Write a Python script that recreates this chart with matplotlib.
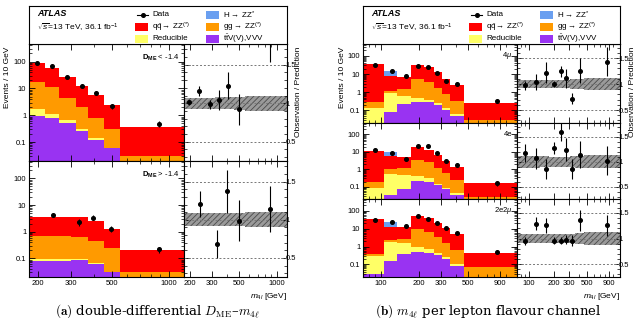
import numpy as np
import matplotlib
matplotlib.use("Agg")
import matplotlib.pyplot as plt
from matplotlib.patches import Rectangle
from matplotlib.ticker import FixedLocator, FixedFormatter, LogLocator, NullFormatter, MultipleLocator

plt.rcParams['font.family'] = ['Liberation Sans', 'DejaVu Sans']
plt.rcParams['mathtext.fontset'] = 'custom'
plt.rcParams['mathtext.rm'] = 'Liberation Sans'
plt.rcParams['mathtext.it'] = 'Liberation Sans:italic'
plt.rcParams['mathtext.bf'] = 'Liberation Sans:bold'
plt.rcParams['hatch.linewidth'] = 0.6

# ---- (a) double differential D_ME - m4l ----
edges_lo = [180, 220, 260, 320, 370, 450, 550, 1200]     # D_ME < -1.4
x_lo = [199, 239, 288, 344, 408, 497, 880]
ttv_lo = [0.92, 0.82, 0.52, 0.26, 0.12, 0.059, 0.004]
red_lo = [0.81, 0.34, 0.13, 0.04, 0.02, 0.004, 0.001]
gg_lo = [15.6, 9.7, 3.75, 1.68, 0.63, 0.25, 0.025]
qq_lo = [74.7, 49.1, 23.4, 10.6, 5.0, 2.04, 0.34]
h_lo = [0, 0, 0, 0, 0, 0, 0]
data_lo = [87, 69, 26.3, 12.6, 6.8, 2.15, 0.49]
ratio_lo = [1.013, 1.164, 0.987, 1.043, 1.23, 0.922, 2.1]
rerr_lo = [0.035, 0.065, 0.055, 0.125, 0.18, 0.2, 0.56]
band_lo = [0.07, 0.07, 0.07, 0.075, 0.08, 0.085, 0.1]

edges_hi = [180, 300, 370, 450, 550, 1200]               # D_ME > -1.4
x_hi = [240, 331, 396, 493, 880]
ttv_hi = [0.082, 0.087, 0.062, 0.03, 0.008]
red_hi = [0.01, 0.005, 0.004, 0.002, 0.001]
gg_hi = [0.588, 0.568, 0.394, 0.205, 0.021]
qq_hi = [2.87, 2.84, 2.04, 1.073, 0.175]
h_hi = [0, 0, 0, 0, 0]
data_hi = [4.1, 2.31, 3.37, 1.31, 0.218]
ratio_hi = [1.209, 0.678, 1.373, 0.99, 1.143]
rerr_hi = [0.17, 0.185, 0.285, 0.265, 0.3]
band_hi = [0.085, 0.085, 0.085, 0.085, 0.1]

# ---- (b) m4l per lepton flavour channel ----
edges_b = [72, 105, 135, 175, 220, 265, 310, 360, 460, 1225]
x_b = [89, 122, 158, 199, 240, 281, 330, 408, 850]

ttv_4mu = [0.004, 0.081, 0.21, 0.285, 0.30, 0.19, 0.10, 0.047, 0.003]
red_4mu = [0.132, 0.79, 0.44, 0.175, 0.07, 0.05, 0.026, 0.013, 0.002]
gg_4mu = [0.164, 0.36, 0.82, 4.94, 3.23, 1.44, 0.674, 0.28, 0.025]
qq_4mu = [33.7, 6.27, 5.43, 24.6, 21.4, 10.9, 4.6, 2.01, 0.23]
h_4mu = [0, 6.9, 0, 0, 0, 0, 0, 0, 0]
data_4mu = [31.2, 14.4, 8.2, 27.4, 23.2, 11.7, 3.95, 2.92, 0.34]
ratio_4mu = [0.974, 1.04, 1.216, 1.0, 1.242, 1.11, 0.72, 1.26, 1.43]
rerr_4mu = [0.08, 0.15, 0.2, 0.065, 0.11, 0.18, 0.11, 0.24, 0.28]
band_4mu = [0.08, 0.08, 0.085, 0.08, 0.08, 0.085, 0.09, 0.1, 0.11]

ttv_4e = [0.003, 0.035, 0.07, 0.21, 0.19, 0.12, 0.07, 0.035, 0.003]
red_4e = [0.078, 0.535, 0.39, 0.21, 0.11, 0.02, 0.01, 0.008, 0.001]
gg_4e = [0.099, 0.51, 0.71, 3.18, 2.27, 1.03, 0.53, 0.217, 0.022]
qq_4e = [11.32, 4.52, 3.73, 14.2, 10.63, 5.43, 2.29, 1.09, 0.144]
h_4e = [0, 3.7, 0, 0, 0, 0, 0, 0, 0]
data_4e = [13.1, 8.2, 3.95, 22, 20.4, 8.6, 2.9, 1.81, 0.155]
ratio_4e = [1.167, 1.067, 0.847, 1.267, 1.587, 1.233, 0.847, 1.133, 1.02]
rerr_4e = [0.18, 0.21, 0.2, 0.115, 0.18, 0.23, 0.2, 0.27, 0.29]
band_4e = [0.12, 0.12, 0.11, 0.1, 0.1, 0.1, 0.11, 0.12, 0.13]

ttv_2e2mu = [0.03, 0.155, 0.37, 0.52, 0.46, 0.34, 0.195, 0.081, 0.005]
red_2e2mu = [0.27, 1.745, 1.16, 0.43, 0.25, 0.07, 0.065, 0.029, 0.003]
gg_2e2mu = [0.07, 0.36, 1.27, 8.35, 5.89, 2.79, 1.22, 0.5, 0.063]
qq_2e2mu = [33.63, 9.34, 8.8, 42.7, 32.4, 17.2, 8.72, 4.29, 0.349]
h_2e2mu = [0, 10.8, 0, 0, 0, 0, 0, 0, 0]
data_2e2mu = [30, 24, 14.4, 48.4, 34.2, 19.5, 10.2, 5.6, 0.52]
ratio_2e2mu = [0.954, 1.288, 1.26, 0.96, 0.96, 0.98, 0.96, 1.353, 1.255]
rerr_2e2mu = [0.085, 0.13, 0.145, 0.065, 0.065, 0.085, 0.11, 0.2, 0.21]
band_2e2mu = [0.09, 0.09, 0.08, 0.08, 0.08, 0.085, 0.09, 0.11, 0.12]

c_ttv, c_red, c_gg, c_qq, c_h = '#9933f2', '#ffff66', '#ff9a00', '#ff0000', '#6a9ff0'

W, H = 640, 318
fig = plt.figure(figsize=(6.4, 3.18), dpi=100)


def box(x0, y0, x1, y1):
    return [x0 / W, 1 - y1 / H, (x1 - x0) / W, (y1 - y0) / H]


def ftext(x, y, s, **kw):
    fig.text(x / W, 1 - y / H, s, **kw)


def style(ax):
    ax.tick_params(which='both', direction='in', top=True, right=True,
                   labelsize=5.5, pad=2)
    ax.tick_params(which='major', length=4, width=0.6)
    ax.tick_params(which='minor', length=2, width=0.5)
    for s in ax.spines.values():
        s.set_linewidth(0.8)


def set_x(ax, xlim, xt, show):
    ax.set_xscale('log')
    ax.set_xlim(*xlim)
    ax.xaxis.set_major_locator(FixedLocator(xt))
    ax.xaxis.set_major_formatter(FixedFormatter([str(v) for v in xt]))
    ax.xaxis.set_minor_locator(LogLocator(subs=np.arange(1, 10)))
    ax.xaxis.set_minor_formatter(NullFormatter())
    if not show:
        ax.tick_params(labelbottom=False)


def draw_row(axm, axr, edges, comps, dx, dy, rat, rerr, band, xlim, xt, show):
    base = np.full(len(edges) - 1, 1e-4)
    for vals, c in zip(comps, [c_ttv, c_red, c_gg, c_qq, c_h]):
        top = base + np.array(vals)
        axm.stairs(top, edges, baseline=base, fill=True, color=c, lw=0)
        base = top
    dy = np.array(dy)
    derr = dy * np.array(rerr) / np.array(rat)
    axm.errorbar(dx, dy, yerr=derr, fmt='o', ms=2.6, color='k', elinewidth=0.8, capsize=0)
    axm.set_yscale('log')
    axm.set_ylim(0.02, 450)
    axm.yaxis.set_major_locator(FixedLocator([0.1, 1, 10, 100]))
    axm.yaxis.set_major_formatter(FixedFormatter(['0.1', '1', '10', '100']))
    axm.yaxis.set_minor_locator(LogLocator(subs=np.arange(2, 10)))
    axm.yaxis.set_minor_formatter(NullFormatter())
    set_x(axm, xlim, xt, show)
    style(axm)

    b = np.array(band)
    axr.stairs(1 + b, edges, baseline=1 - b, fill=True, facecolor='#9a9a9a',
               edgecolor='#4a4a4a', hatch='//////', lw=0)
    for yv in (0.5, 1.0, 1.5):
        axr.axhline(yv, color='#777777', lw=0.7, ls=(0, (2, 2)))
    axr.errorbar(dx, rat, yerr=rerr, fmt='o', ms=2.6, color='k', elinewidth=0.8, capsize=0)
    axr.set_ylim(0.25, 1.77)
    axr.yaxis.set_major_locator(FixedLocator([0.5, 1, 1.5]))
    axr.yaxis.set_major_formatter(FixedFormatter(['0.5', '1', '1.5']))
    axr.yaxis.set_minor_locator(MultipleLocator(0.1))
    set_x(axr, xlim, xt, show)
    style(axr)
    axr.tick_params(axis='y', labelleft=False, labelright=True, pad=-1)


leg_colors = [None, c_qq, c_red, c_h, c_gg, c_ttv]
leg_labels = ['Data', r'q$\bar{\mathrm{q}}\!\rightarrow$ ZZ$^{(*)}$', 'Reducible',
              r'H$\rightarrow$ ZZ$^{*}$', r'gg$\rightarrow$ ZZ$^{(*)}$',
              r't$\bar{\mathrm{t}}$V(V),VVV']


def legend_box(x0, x1):
    # header box; axes data units are figure pixels (y downwards)
    ax = fig.add_axes(box(x0, 6, x1, 44), zorder=3)
    ax.set_xlim(x0, x1)
    ax.set_ylim(44, 6)
    ax.set_xticks([])
    ax.set_yticks([])
    for s in ax.spines.values():
        s.set_linewidth(0.8)
    ax.text(x0 + 8, 13, 'ATLAS', fontsize=6.5, fontweight='bold', fontstyle='italic', va='center')
    ax.text(x0 + 8, 28, r'$\sqrt{s}$=13 TeV, 36.1 fb$^{-1}$', fontsize=6, va='center')
    for k, (c, lab) in enumerate(zip(leg_colors, leg_labels)):
        col, row = divmod(k, 3)
        hx = x0 + 106 + 71 * col
        y = 15 + 12 * row
        if c is None:
            ax.plot([hx + 2, hx + 13], [y, y], color='k', lw=0.8)
            ax.plot([hx + 7.5], [y], 'o', color='k', ms=2.6)
        else:
            ax.add_patch(Rectangle((hx, y - 4), 13, 8, color=c, lw=0))
        ax.text(hx + 17, y, lab, fontsize=5.8, va='center')
    return ax


# ---------- panel (a) ----------
lega = legend_box(29, 287)

xa = (180, 1200)
xta = [200, 300, 500, 1000]
am1 = fig.add_axes(box(29, 44, 184, 161))
ar1 = fig.add_axes(box(184, 44, 287, 161))
draw_row(am1, ar1, edges_lo, [ttv_lo, red_lo, gg_lo, qq_lo, h_lo], x_lo, data_lo,
         ratio_lo, rerr_lo, band_lo, xa, xta, False)
am2 = fig.add_axes(box(29, 161, 184, 277))
ar2 = fig.add_axes(box(184, 161, 287, 277))
draw_row(am2, ar2, edges_hi, [ttv_hi, red_hi, gg_hi, qq_hi, h_hi], x_hi, data_hi,
         ratio_hi, rerr_hi, band_hi, xa, xta, True)
am1.text(0.97, 0.88, r'$\mathbf{D_{ME}}$ < -1.4', transform=am1.transAxes,
         ha='right', va='center', fontsize=5.5)
am2.text(0.97, 0.88, r'$\mathbf{D_{ME}}$ > -1.4', transform=am2.transAxes,
         ha='right', va='center', fontsize=5.5)

ftext(8, 47, 'Events / 10 GeV', rotation=90, fontsize=6, ha='center', va='top')
ftext(299, 47, 'Observation / Prediction', rotation=90, fontsize=6, ha='center', va='top')
ftext(287, 296, r'$m_{4l}$ [GeV]', fontsize=6, ha='right', va='center')

# ---------- panel (b) ----------
legb = legend_box(363, 620)

xb = (72, 1225)
xtb = [100, 200, 300, 500, 900]
rows = [(44, 123), (123, 199), (199, 277)]
chans = [
    ([ttv_4mu, red_4mu, gg_4mu, qq_4mu, h_4mu], data_4mu, ratio_4mu, rerr_4mu, band_4mu, r'4$\mu$'),
    ([ttv_4e, red_4e, gg_4e, qq_4e, h_4e], data_4e, ratio_4e, rerr_4e, band_4e, '4e'),
    ([ttv_2e2mu, red_2e2mu, gg_2e2mu, qq_2e2mu, h_2e2mu], data_2e2mu, ratio_2e2mu,
     rerr_2e2mu, band_2e2mu, r'2e2$\mu$'),
]
for i, ((y0, y1), (comps, dy, rat, rerr, band, lab)) in enumerate(zip(rows, chans)):
    axm = fig.add_axes(box(363, y0, 517, y1))
    axr = fig.add_axes(box(517, y0, 620, y1))
    draw_row(axm, axr, edges_b, comps, x_b, dy, rat, rerr, band, xb, xtb, i == 2)
    axm.text(0.97, 0.85, lab, transform=axm.transAxes, ha='right', va='center', fontsize=5.5)

ftext(342, 47, 'Events / 10 GeV', rotation=90, fontsize=6, ha='center', va='top')
ftext(633, 47, 'Observation / Prediction', rotation=90, fontsize=6, ha='center', va='top')
ftext(620, 296, r'$m_{4l}$ [GeV]', fontsize=6, ha='right', va='center')

# captions
ftext(157, 311, r'$\mathbf{(a)}$ double-differential $D_{\mathrm{ME}}$–$m_{4\ell}$',
      fontsize=9.5, family='DejaVu Serif', math_fontfamily='cm', ha='center', va='center')
ftext(488, 311, r'$\mathbf{(b)}$ $m_{4\ell}$ per lepton flavour channel',
      fontsize=9.5, family='DejaVu Serif', math_fontfamily='cm', ha='center', va='center')

fig.savefig('out.png', dpi=100)
